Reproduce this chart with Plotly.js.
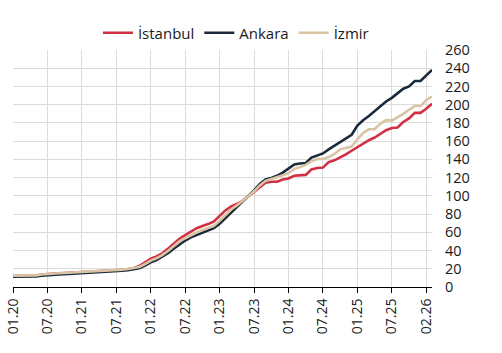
<!DOCTYPE html>
<html>
<head>
<meta charset="utf-8">
<script src="https://cdn.plot.ly/plotly-3.0.1.min.js"></script>
<style>html,body{margin:0;padding:0;background:#fff;}#chart{width:502px;height:353px;}</style>
</head>
<body>
<div id="chart"></div>
<script>
// Monthly index, 01.20 .. 02.26 (74 months)
const istanbul = [12.3,12.3,12.3,12.3,12.6,13.6,14.3,14.6,14.9,15.2,15.5,15.8,16.1,16.4,16.7,17.1,17.5,17.9,18.4,18.9,19.6,20.5,
  23,27,31,33.5,37,42,47.5,53,57,61,64.5,67,69,72,78,84,88.5,91,94.5,99.5,104,110,114.5,115.5,115.5,118,119,122,122.5,123,129,130.5,131,137,139,142,145.5,149.5,153.5,157,161,164,168,172,174.5,175,181,185,191,191,195.5,201];
const ankara = [11.2,11.2,11.2,11.2,11.5,12.5,13.2,13.5,13.8,14.1,14.4,14.7,15,15.3,15.6,16,16.4,16.8,17.3,17.8,18.5,19.4,
  20.5,23.5,27,29.5,33,37,42,47,51,54.5,57,59.5,61.5,64.5,69.5,75.5,82,87.5,93,99,106,113,118,119.5,122,125.5,130,134.5,135.5,136,142,144.5,146.5,151,155,159,163,167,177,183,187.5,193,198.5,203.5,207.5,212.5,217.5,220,226,226,232.5,238];
const izmir = [12.5,12.5,12.5,12.5,12.8,13.8,14.5,14.8,15.1,15.4,15.7,16,16.3,16.6,16.9,17.3,17.7,18.1,18.6,19.1,19.8,20.7,
  22,25,29,31.5,35,39.5,44.5,50,53.5,57,60,62.5,64.5,67,72.5,79,85,89.5,94,99.5,105,111.5,116.5,118.5,120,122.5,125,129.5,131.5,134,138,140.5,140.5,142.5,146,151,152.5,154,162,169,173,173,179,183,182.5,186,190,194.5,198.5,198.5,205,209];
const tickIndex = [0,6,12,18,24,30,36,42,48,54,60,66,72];
const tickLabels = ["01.20","07.20","01.21","07.21","01.22","07.22","01.23","07.23","01.24","07.24","01.25","07.25","02.26"];
const names = ["İstanbul","Ankara","İzmir"];
const colors = ["#d22f45","#1c2b3c","#d9c4a3"];

const x = istanbul.map((_, i) => i);
const series = [istanbul, ankara, izmir];
const traces = series.map((y, k) => ({
  x: x, y: y, name: names[k], type: "scatter", mode: "lines",
  line: {color: colors[k], width: 2.6}
}));

const font = {family: "Open Sans, sans-serif", size: 14, color: "#1a1a1a"};
const layout = {
  width: 502, height: 353,
  margin: {l: 13, r: 70, t: 50, b: 66},
  paper_bgcolor: "#fff", plot_bgcolor: "#fff",
  font: font,
  showlegend: true,
  legend: {orientation: "h", x: 0.532, xanchor: "center", y: 1.072, yanchor: "middle",
           font: {family: "Open Sans, sans-serif", size: 15, color: "#1a1a1a"},
           itemwidth: 30, tracegroupgap: 0, bgcolor: "rgba(0,0,0,0)"},
  xaxis: {
    range: [0, 73], tickmode: "array", tickvals: tickIndex, ticktext: tickLabels,
    tickangle: -90, ticks: "outside", ticklen: 5, tickcolor: "#000", tickwidth: 1,
    showgrid: true, gridcolor: "#dcdcdc", gridwidth: 1,
    showline: true, linecolor: "#000", linewidth: 1,
    zeroline: false, fixedrange: true,
    tickfont: {family: "Open Sans, sans-serif", size: 14, color: "#1a1a1a"}
  },
  yaxis: {
    range: [0, 260], dtick: 20, side: "right", ticks: "",
    showgrid: true, gridcolor: "#dcdcdc", gridwidth: 1,
    showline: false, zeroline: false, ticklabelstandoff: 12,
    tickfont: {family: "Open Sans, sans-serif", size: 14.5, color: "#1a1a1a"}
  }
};
Plotly.newPlot("chart", traces, layout, {staticPlot: true, displayModeBar: false});
</script>
</body>
</html>
